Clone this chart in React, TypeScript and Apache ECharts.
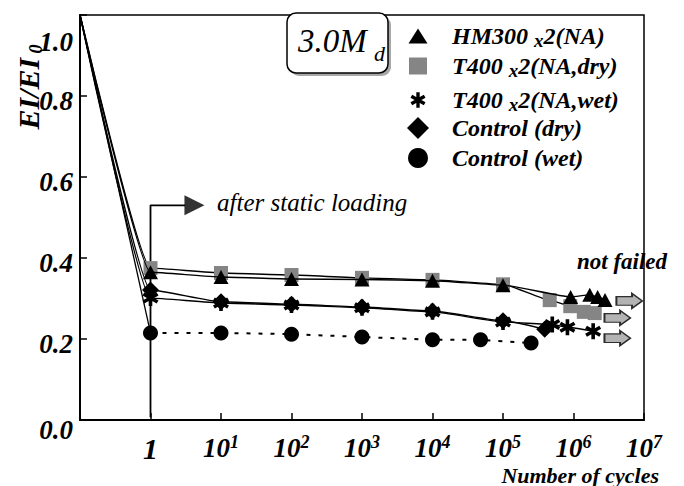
import React, { useEffect, useRef } from 'react';
import * as echarts from 'echarts';

// ---------- data ----------
const START_CYCLES = 0.1; // lines start at the left edge with EI/EI0 = 1.0
const START_VALUE = 1.0;

const hm300Cycles = [1, 10, 100, 1000, 1e4, 1e5, 9.1e5, 1.7e6, 2.2e6, 2.8e6];
const hm300Values = [0.365, 0.353, 0.348, 0.347, 0.344, 0.333, 0.304, 0.309, 0.304, 0.296];

const t400DryCycles = [1, 10, 100, 1000, 1e4, 1e5, 4.6e5, 9e5, 1.4e6, 2e6];
const t400DryValues = [0.375, 0.363, 0.358, 0.351, 0.346, 0.335, 0.296, 0.281, 0.267, 0.264];

const t400WetCycles = [1, 10, 100, 1000, 1e4, 1e5, 5e5, 8.2e5, 1.9e6];
const t400WetValues = [0.301, 0.289, 0.284, 0.277, 0.267, 0.242, 0.236, 0.229, 0.219];

const controlDryCycles = [1, 10, 100, 1000, 1e4, 1e5, 3.9e5];
const controlDryValues = [0.321, 0.292, 0.286, 0.279, 0.269, 0.245, 0.224];

const controlWetCycles = [1, 10, 100, 1000, 1e4, 4.8e4, 2.5e5];
const controlWetValues = [0.215, 0.215, 0.212, 0.205, 0.198, 0.198, 0.19];

const notFailedCycles = [6.2e6, 4.2e6, 4.2e6];
const notFailedValues = [0.294, 0.252, 0.202];

const staticLoadCycles = [1, 1, 3.1];
const staticLoadValues = [0.007, 0.53, 0.53];
const staticArrowHead = [4.2, 0.53];

const yTicks = [0, 0.2, 0.4, 0.6, 0.8, 1.0];

const NAME_HM = 'HM300 x2(NA)';
const NAME_TD = 'T400 x2(NA,dry)';
const NAME_TW = 'T400 x2(NA,wet)';
const NAME_CD = 'Control (dry)';
const NAME_CW = 'Control (wet)';

// ---------- styles ----------
const FONT = 'Liberation Serif';
const ASTERISK =
  'path://M-2.2,-10L2.2,-10L2.2,10L-2.2,10Z M9.76,3.09L7.56,6.91L-9.76,-3.09L-7.56,-6.91Z M7.56,-6.91L9.76,-3.09L-7.56,6.91L-9.76,3.09Z';
const ARROW = 'path://M0,3L15,3L15,0L25,7L15,14L15,11L0,11Z';

const withStart = (cycles: number[], values: number[]) => [
  { value: [START_CYCLES, START_VALUE], symbol: 'none' },
  ...cycles.map((c, i) => [c, values[i]]),
];

const bi = { fontFamily: FONT, fontWeight: 'bold' as const, fontStyle: 'italic' as const, color: '#000' };

function legendFor(name: string, icon: string, w: number, h: number, cy: number) {
  const cx = 413;
  const pad = 447 - (cx + w / 2) - 5;
  return {
    data: [{ name, icon }],
    left: cx - w / 2,
    top: cy - 14,
    itemWidth: w,
    itemHeight: h,
    itemStyle: { borderWidth: 0 },
    selectedMode: false,
    formatter: (n: string) => {
      const i = n.indexOf(' x2');
      if (i < 0) return '{h|' + n + '}';
      return '{h|' + n.slice(0, i) + ' }{x|x}{t|' + n.slice(i + 2) + '}';
    },
    textStyle: {
      ...bi,
      fontSize: 24,
      rich: {
        h: { ...bi, fontSize: 24, lineHeight: 28, padding: [0, 0, 0, pad] },
        t: { ...bi, fontSize: 24, lineHeight: 28 },
        x: { ...bi, fontSize: 19, lineHeight: 19, verticalAlign: 'bottom' },
      },
    },
  };
}

export default function App() {
  const ref = useRef<HTMLDivElement>(null);

  useEffect(() => {
    if (!ref.current) return;
    const chart = echarts.init(ref.current, undefined, { renderer: 'svg' });

    const option: any = {
      animation: false,
      backgroundColor: '#fff',
      textStyle: { fontFamily: FONT },
      grid: {
        left: 80,
        right: 40,
        top: 15,
        bottom: 66,
        show: true,
        borderColor: '#000',
        borderWidth: 1.5,
        backgroundColor: 'transparent',
      },
      legend: [
        legendFor(NAME_HM, 'triangle', 19, 15, 33),
        legendFor(NAME_TD, 'rect', 18, 17, 63),
        legendFor(NAME_TW, ASTERISK, 15, 16, 97),
        legendFor(NAME_CD, 'diamond', 22, 22, 125),
        legendFor(NAME_CW, 'circle', 20, 20, 155),
      ],
      xAxis: {
        type: 'log',
        logBase: 10,
        min: 0.1,
        max: 1e7,
        axisLine: { show: true, lineStyle: { color: '#000', width: 2 } },
        axisTick: { show: true, inside: true, length: 7, lineStyle: { color: '#000', width: 1.5 } },
        splitLine: { show: false },
        minorTick: { show: false },
        axisLabel: {
          interval: 0,
          margin: 13,
          showMinLabel: true,
          showMaxLabel: true,
          formatter: (v: number) => {
            const e = Math.round(Math.log10(v));
            if (e < 0) return '';
            if (e === 0) return '{o|1}';
            return '{b|10}{s|' + e + '}';
          },
          rich: {
            o: { ...bi, fontSize: 30, lineHeight: 30 },
            b: { ...bi, fontSize: 27, lineHeight: 30 },
            s: { ...bi, fontSize: 18, lineHeight: 18, verticalAlign: 'top' },
          },
        },
      },
      yAxis: {
        type: 'value',
        min: yTicks[0],
        max: yTicks[yTicks.length - 1],
        interval: 0.2,
        axisLine: { show: true, lineStyle: { color: '#000', width: 2 } },
        axisTick: { show: true, inside: true, length: 7, lineStyle: { color: '#000', width: 1.5 } },
        splitLine: { show: false },
        axisLabel: {
          margin: 7,
          formatter: (v: number) => {
            const s = v.toFixed(1);
            if (v >= 0.999) return '{t|' + s + '}';
            if (v <= 0.001) return '{z|' + s + '}';
            return '{n|' + s + '}';
          },
          rich: {
            n: { ...bi, fontSize: 27, padding: [10, 0, 0, 0] },
            z: { ...bi, fontSize: 27, padding: [20, 0, 0, 0] },
            t: { ...bi, fontSize: 27, padding: [54, 0, 0, 0] },
          },
        },
      },
      series: [
        {
          name: 'static loading',
          type: 'line',
          silent: true,
          showSymbol: false,
          symbol: 'none',
          data: staticLoadCycles.map((c, i) => [c, staticLoadValues[i]]),
          lineStyle: { color: '#000', width: 1.8 },
          z: 1,
        },
        {
          name: 'static arrow',
          type: 'scatter',
          silent: true,
          symbol: 'triangle',
          symbolRotate: -90,
          symbolSize: [20, 20],
          itemStyle: { color: '#000' },
          data: [staticArrowHead],
          z: 1,
        },
        {
          name: 'wet drop',
          type: 'line',
          silent: true,
          symbol: 'none',
          data: [
            [START_CYCLES, START_VALUE],
            [controlWetCycles[0], controlWetValues[0]],
          ],
          lineStyle: { color: '#000', width: 1.3 },
          z: 2,
        },
        {
          name: NAME_CW,
          type: 'line',
          symbol: 'circle',
          symbolSize: 15,
          data: controlWetCycles.map((c, i) => [c, controlWetValues[i]]),
          itemStyle: { color: '#000' },
          lineStyle: { color: '#000', width: 2, type: [4, 8] },
          z: 3,
        },
        {
          name: NAME_TD,
          type: 'line',
          symbol: 'rect',
          symbolSize: 14,
          smooth: 0.15,
          smoothMonotone: 'x',
          data: withStart(t400DryCycles, t400DryValues),
          itemStyle: { color: '#858585' },
          lineStyle: { color: '#000', width: 1.4 },
          z: 4,
        },
        {
          name: NAME_HM,
          type: 'line',
          symbol: 'triangle',
          symbolSize: [15, 14],
          smooth: 0.15,
          smoothMonotone: 'x',
          data: withStart(hm300Cycles, hm300Values),
          itemStyle: { color: '#000' },
          lineStyle: { color: '#000', width: 1.4 },
          z: 5,
        },
        {
          name: NAME_CD,
          type: 'line',
          symbol: 'diamond',
          symbolSize: 17,
          smooth: 0.15,
          smoothMonotone: 'x',
          data: withStart(controlDryCycles, controlDryValues),
          itemStyle: { color: '#000' },
          lineStyle: { color: '#000', width: 1.4 },
          z: 6,
        },
        {
          name: NAME_TW,
          type: 'line',
          symbol: ASTERISK,
          symbolSize: 16,
          smooth: 0.15,
          smoothMonotone: 'x',
          data: withStart(t400WetCycles, t400WetValues),
          itemStyle: { color: '#000' },
          lineStyle: { color: '#000', width: 1.4 },
          z: 7,
        },
        {
          name: 'not failed',
          type: 'scatter',
          symbol: ARROW,
          symbolSize: [26, 15],
          clip: false,
          data: notFailedCycles.map((c, i) => [c, notFailedValues[i]]),
          itemStyle: { color: '#a0a0a0', borderColor: '#000', borderWidth: 1.5 },
          z: 8,
        },
      ],
      graphic: [
        {
          type: 'rect',
          z: 100,
          shape: { x: 290, y: 16, width: 101, height: 60, r: 9 },
          style: { fill: '#a8a8a8' },
        },
        {
          type: 'rect',
          z: 101,
          shape: { x: 287, y: 13, width: 101, height: 60, r: 9 },
          style: { fill: '#fff', stroke: '#000', lineWidth: 1.5 },
        },
        {
          type: 'text',
          z: 102,
          x: 298,
          y: 41,
          style: { text: '3.0M', fontFamily: FONT, fontStyle: 'italic', fontSize: 33, fill: '#000', verticalAlign: 'middle' },
        },
        {
          type: 'text',
          z: 102,
          x: 374,
          y: 53,
          style: { text: 'd', fontFamily: FONT, fontStyle: 'italic', fontSize: 22, fill: '#000', verticalAlign: 'middle' },
        },
        {
          type: 'text',
          z: 102,
          x: 217,
          y: 202,
          style: { text: 'after static loading', fontFamily: FONT, fontStyle: 'italic', fontSize: 25, fill: '#000', verticalAlign: 'middle' },
        },
        {
          type: 'text',
          z: 102,
          x: 577,
          y: 261,
          style: { text: 'not failed', fontFamily: FONT, fontStyle: 'italic', fontWeight: 'bold', fontSize: 23, fill: '#000', verticalAlign: 'middle' },
        },
        {
          type: 'text',
          z: 102,
          x: 659,
          y: 475,
          style: { text: 'Number of cycles', fontFamily: FONT, fontStyle: 'italic', fontWeight: 'bold', fontSize: 22, fill: '#000', align: 'right', verticalAlign: 'middle' },
        },
        {
          type: 'text',
          z: 102,
          x: 28,
          y: 87,
          rotation: Math.PI / 2,
          style: {
            text: '{a|EI/EI}{b| 0}',
            align: 'center',
            verticalAlign: 'middle',
            rich: {
              a: { fontFamily: FONT, fontStyle: 'italic', fontWeight: 'bold', fontSize: 30, lineHeight: 34, fill: '#000' },
              b: { fontFamily: FONT, fontStyle: 'italic', fontWeight: 'bold', fontSize: 18, lineHeight: 18, verticalAlign: 'bottom', fill: '#000' },
            },
          },
        },
      ],
    };

    chart.setOption(option);
    return () => chart.dispose();
  }, []);

  return (
    <div
      ref={ref}
      style={{ position: 'absolute', left: 0, top: 0, width: 684, height: 486, background: '#fff' }}
    />
  );
}
